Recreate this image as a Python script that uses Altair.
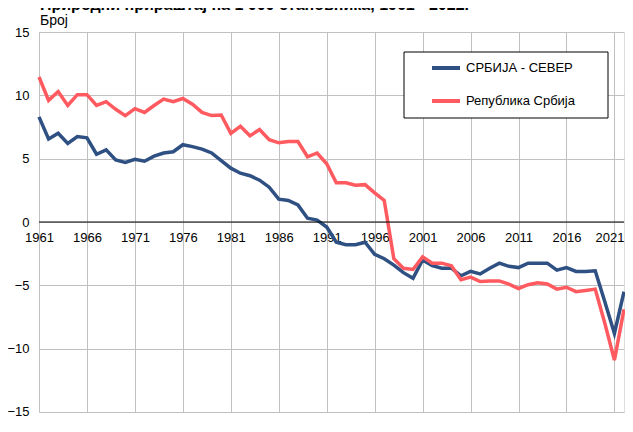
import altair as alt
import pandas as pd

title_text = "Природни прираштај на 1 000 становника, 1961 - 2022."
subtitle_text = "Број"
series_names = ["СРБИЈА - СЕВЕР", "Република Србија"]
series_colors = ["#2f5082", "#ff5a5f"]

years = list(range(1961, 2023))
north = [8.3, 6.55, 7.0, 6.2, 6.75, 6.65, 5.35, 5.7, 4.9, 4.7,
         4.95, 4.8, 5.2, 5.45, 5.55, 6.1, 5.95, 5.75, 5.45, 4.85,
         4.25, 3.85, 3.65, 3.3, 2.75, 1.8, 1.7, 1.35, 0.3, 0.15,
         -0.4, -1.6, -1.8, -1.8, -1.6, -2.55, -2.9, -3.4, -4.0, -4.45,
         -3.0, -3.45, -3.65, -3.65, -4.25, -3.9, -4.1, -3.65, -3.25, -3.5,
         -3.6, -3.25, -3.25, -3.25, -3.8, -3.6, -3.9, -3.9, -3.85, -6.3,
         -8.8, -5.5]
serbia = [11.45, 9.6, 10.3, 9.2, 10.05, 10.05, 9.2, 9.5, 8.9, 8.4,
          8.95, 8.65, 9.2, 9.7, 9.5, 9.75, 9.3, 8.65, 8.4, 8.45,
          7.0, 7.55, 6.8, 7.3, 6.5, 6.25, 6.35, 6.35, 5.15, 5.45,
          4.6, 3.1, 3.1, 2.9, 2.95, 2.3, 1.7, -2.9, -3.65, -3.75,
          -2.75, -3.25, -3.25, -3.45, -4.55, -4.35, -4.7, -4.65, -4.65, -4.9,
          -5.25, -4.95, -4.8, -4.9, -5.3, -5.15, -5.5, -5.4, -5.3, -8.0,
          -10.9, -6.9]
x_ticks = list(range(1961, 2022, 5))
y_ticks = [-15, -10, -5, 0, 5, 10, 15]

FONT = "Liberation Sans"

df = pd.DataFrame({
    "year": years * 2,
    "value": north + serbia,
    "series": [series_names[0]] * len(years) + [series_names[1]] * len(years),
})

x_scale = alt.Scale(domain=[1961, 2022], nice=False, zero=False)
y_scale = alt.Scale(domain=[-15, 15], nice=False)

lines = alt.Chart(df).mark_line(strokeWidth=3.5, strokeJoin="miter").encode(
    x=alt.X("year:Q", scale=x_scale,
            axis=alt.Axis(values=x_ticks, format="d", title=None, offset=-190,
                          domain=False, ticks=False, labelPadding=9,
                          labelFontSize=13, labelFont=FONT, labelColor="#000",
                          grid=True, gridColor="#c0c0c0", gridWidth=1,
                          labelFlush=False,
                          labelOffset={"condition": {"test": "datum.value == 2021", "value": -5},
                                       "value": 0})),
    y=alt.Y("value:Q", scale=y_scale,
            axis=alt.Axis(values=y_ticks, title=None, domain=False, ticks=False,
                          labelPadding=10, labelFontSize=13, labelFont=FONT,
                          labelColor="#000", grid=True, gridColor="#c0c0c0",
                          gridWidth=1,
                          labelOffset={"condition": {"test": "datum.value == -15", "value": -1},
                                       "value": 0})),
    color=alt.Color("series:N", scale=alt.Scale(domain=series_names, range=series_colors),
                    legend=None),
    order=alt.Order("year:Q"),
)

zero_rule = alt.Chart(pd.DataFrame({"z": [0]})).mark_rule(color="#000", strokeWidth=1).encode(
    y=alt.Y("z:Q", scale=y_scale)
)

one = pd.DataFrame({"k": [0]})

title_mark = alt.Chart(one).mark_text(
    align="left", baseline="alphabetic", font=FONT, fontSize=16, fontWeight="bold", color="#000"
).encode(x=alt.value(1), y=alt.value(-22), text=alt.value(title_text))

subtitle_mark = alt.Chart(one).mark_text(
    align="left", baseline="alphabetic", font=FONT, fontSize=14, color="#000"
).encode(x=alt.value(1), y=alt.value(-7), text=alt.value(subtitle_text))

legend_box = alt.Chart(one).mark_rect(fill="white", stroke="#000", strokeWidth=1).encode(
    x=alt.value(365), x2=alt.value(569), y=alt.value(20), y2=alt.value(86)
)

legend_layers = []
for i, (name, col) in enumerate(zip(series_names, series_colors)):
    yy = 36 + 33 * i
    legend_layers.append(
        alt.Chart(one).mark_rule(strokeWidth=4).encode(
            x=alt.value(393), x2=alt.value(421), y=alt.value(yy), color=alt.value(col)
        )
    )
    legend_layers.append(
        alt.Chart(one).mark_text(align="left", baseline="middle", font=FONT, fontSize=13,
                                 color="#000").encode(
            x=alt.value(427), y=alt.value(yy), text=alt.value(name)
        )
    )

chart = alt.layer(
    lines, zero_rule, legend_box, *legend_layers, title_mark, subtitle_mark
).properties(
    width=585, height=380,
    autosize=alt.AutoSizeParams(type="none"),
    padding={"left": 31, "top": 24, "right": 1, "bottom": 7},
).configure_view(
    stroke="#000", strokeWidth=1
).configure(background="white")

chart.save("out.html", embed_options={"renderer": "svg", "actions": False})
